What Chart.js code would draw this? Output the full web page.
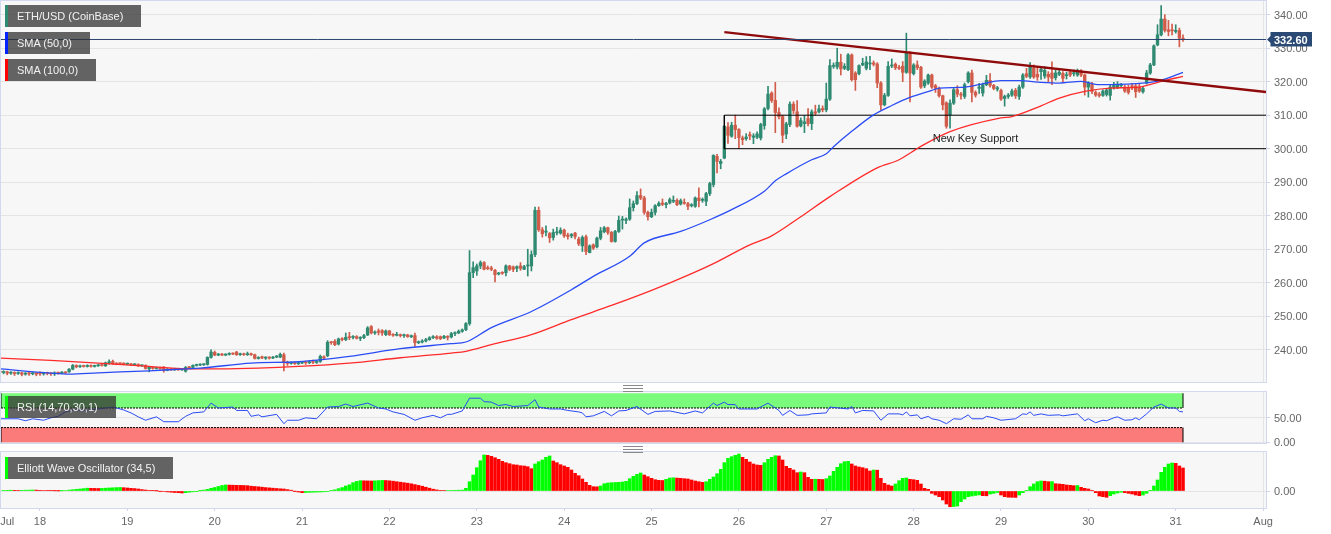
<!DOCTYPE html>
<html><head><meta charset="utf-8"><title>ETH/USD</title>
<script src="https://cdn.jsdelivr.net/npm/chart.js@4"></script>
<style>
html,body{margin:0;padding:0;background:#fff;overflow:hidden;width:1331px;height:534px;font-family:"Liberation Sans",Arial,sans-serif}
canvas{position:absolute;left:0}
.frame{position:absolute;left:0;width:1265px;border:1px solid #d2d9ee;pointer-events:none}
.lg{position:absolute;left:5px;height:22px;line-height:22px;background:rgba(50,50,50,.75);color:#f2f2f2;font-size:11px;padding-left:12px;box-sizing:border-box;white-space:nowrap}
.lg i{position:absolute;left:0;top:0;width:3px;height:22px}
.grip{position:absolute;left:623px;width:20px;height:5px;border-top:1px solid #8a8a8a;border-bottom:1px solid #8a8a8a}
.grip:after{content:"";position:absolute;left:0;right:0;top:2px;height:1px;background:#8a8a8a}
</style></head><body>
<canvas id="main" width="1331" height="381" style="top:1px"></canvas>
<canvas id="rsi" width="1331" height="60" style="top:392px"></canvas>
<canvas id="ewo" width="1331" height="82" style="top:452px"></canvas>
<div class="frame" style="top:0;height:381px"></div>
<div class="frame" style="top:391px;height:51px"></div>
<div class="frame" style="top:451px;height:56px"></div>
<div class="grip" style="top:385px"></div><div class="grip" style="top:446px"></div>
<div class="lg" style="top:5px;width:136px"><i style="background:#2f8a72"></i>ETH/USD (CoinBase)</div>
<div class="lg" style="top:32px;width:85px"><i style="background:#0022ff"></i>SMA (50,0)</div>
<div class="lg" style="top:59px;width:91px"><i style="background:#ff0000"></i>SMA (100,0)</div>
<div class="lg" style="top:396px;width:111px"><i style="background:#00ff00"></i>RSI (14,70,30,1)</div>
<div class="lg" style="top:457px;width:168px"><i style="background:#00ff00"></i>Elliott Wave Oscillator (34,5)</div>
<script>
// Hour index relative to Jul 18 00:00 for the first candle
const firstBar = -11;
const dayTicks = [-9,0,24,48,72,96,120,144,168,192,216,240,264,288,312,336];
const dayLabels = ['Jul','18','19','20','21','22','23','24','25','26','27','28','29','30','31','Aug'];
const priceTicks = [240,250,260,270,280,290,300,310,320,330,340];
const rsiTicks = [0,50];
const ewoTicks = [0];
const lastPrice = 332.6;
const supportLevels = [310,300];
const supportStart = 188;
const trendX = [188,336.8];
const trendY = [334.8,316.9];
const noteLabel = 'New Key Support';
const noteAt = [257,303.0];

const opens = [
233.6,233.2,233.4,233.0,233.2,232.9,233.1,232.7,233.0,232.8,233.0,
233.0,232.8,233.0,232.9,232.8,233.1,233.0,233.2,233.4,234.2,235.3,234.9,235.2,235.0,235.3,235.0,235.2,235.4,235.2,236.1,236.5,235.9,235.9,235.9,
235.7,235.8,235.5,235.6,235.2,235.3,234.3,234.8,234.4,234.6,234.8,233.9,234.2,234.0,234.3,234.0,233.6,234.7,234.7,235.3,235.4,235.5,235.6,237.7,
239.2,238.4,238.7,238.4,238.6,238.9,239.3,238.5,238.7,238.5,238.8,238.5,237.4,237.9,237.5,237.7,237.5,237.8,237.8,238.5,236.2,235.9,236.1,235.8,
236.0,236.2,236.1,236.4,236.2,236.5,237.9,238.2,242.2,242.5,241.7,243.2,243.0,243.8,243.7,243.9,243.4,243.6,244.4,246.9,245.0,245.6,245.7,244.5,
245.6,244.5,244.3,244.5,244.2,244.4,243.9,244.2,242.1,242.3,242.6,243.0,243.6,243.9,243.9,243.5,244.0,243.8,244.8,245.0,245.5,246.0,247.8,263.0,
263.5,265.0,266.0,264.5,264.4,263.7,262.6,263.0,263.0,265.0,264.7,264.3,265.0,264.0,265.0,265.0,268.4,281.6,275.8,275.1,274.7,273.5,274.9,274.8,
275.7,274.2,274.0,274.8,273.0,271.0,273.7,269.0,271.3,270.7,273.3,275.2,276.4,275.0,272.3,275.3,278.7,278.6,279.0,282.4,283.6,286.0,285.3,281.0,
279.7,281.0,283.0,283.8,283.3,283.8,284.3,284.6,283.5,284.0,283.6,283.0,282.8,285.3,284.6,284.3,286.6,289.3,297.7,295.6,297.2,306.5,303.7,307.0,
305.7,303.2,303.0,304.2,303.4,303.4,303.2,306.9,312.0,316.6,314.4,310.8,309.6,304.4,307.2,313.3,311.0,306.8,307.5,309.0,307.5,311.0,311.0,312.0,
311.6,314.8,324.6,324.4,325.8,324.0,323.6,328.0,322.6,322.4,325.0,324.0,325.3,325.6,325.3,319.6,313.1,315.9,324.7,325.2,324.3,324.6,322.8,328.6,
322.4,325.0,324.3,318.8,319.6,322.0,318.8,318.0,315.8,313.7,310.1,313.6,317.6,316.3,315.6,320.0,322.6,316.8,318.0,316.6,319.1,320.4,318.9,317.8,
317.4,315.0,315.6,316.0,317.4,315.6,318.4,322.4,321.4,324.1,322.2,323.0,321.7,322.2,322.6,321.2,322.2,322.5,321.8,322.8,322.4,322.0,323.2,322.0,
318.4,319.2,316.8,316.3,315.9,316.2,315.9,318.2,318.2,318.8,318.4,318.0,318.8,318.7,318.4,317.0,319.6,322.6,325.0,331.0,334.0,338.7,335.5,335.4,
335.0,335.3,333.0];
const highs = [
233.9,233.7,233.6,233.5,233.4,233.4,233.3,233.2,233.3,233.2,233.2,
233.4,233.2,233.3,233.2,233.4,233.3,233.5,233.4,234.4,235.6,235.5,235.4,235.4,235.5,235.5,235.4,235.6,235.6,236.3,237.0,236.9,236.1,236.1,236.1,
236.0,235.9,235.8,235.8,235.5,235.5,235.0,235.0,234.8,234.8,235.0,234.4,234.4,234.5,234.5,234.4,235.0,235.0,235.5,235.7,235.8,235.8,237.9,240.0,
239.6,238.9,238.9,238.8,239.1,239.1,239.5,239.0,239.0,239.3,239.0,238.7,237.9,238.1,237.9,237.9,238.0,238.3,239.0,239.0,236.6,236.4,236.3,236.3,
236.5,236.6,236.7,236.9,236.8,238.4,238.2,242.7,242.4,243.0,243.5,243.6,245.0,245.2,244.2,244.2,243.9,244.6,246.9,247.2,245.6,246.2,246.0,245.9,
245.8,244.8,245.2,244.7,244.7,244.6,244.4,245.0,242.6,243.0,243.4,243.9,244.2,244.2,244.1,244.3,244.2,245.2,245.3,245.9,246.2,248.1,269.6,266.2,
265.6,266.5,266.3,265.0,264.9,264.0,263.1,263.3,265.3,265.2,265.0,265.0,266.0,265.2,270.0,269.5,282.6,282.6,276.5,277.0,275.0,276.0,276.5,276.4,
276.0,274.8,274.7,275.0,273.6,274.0,274.2,271.3,271.6,273.6,276.5,276.8,276.6,275.3,275.6,279.9,279.8,279.4,285.0,284.4,287.2,288.0,285.8,281.4,
282.0,283.3,284.2,285.0,284.0,285.3,285.9,285.0,285.0,285.0,284.0,283.6,285.6,288.3,285.3,287.0,290.0,298.2,298.3,296.8,307.0,307.8,307.9,310.0,
306.0,303.8,304.5,305.0,304.5,305.0,307.6,312.3,318.6,317.0,319.8,312.2,310.0,307.9,314.0,314.0,314.4,309.2,309.9,312.0,311.6,313.0,313.0,312.8,
319.6,326.6,325.6,330.0,328.2,325.4,328.4,328.3,323.0,325.0,327.0,327.5,327.6,326.2,325.7,320.0,316.5,326.0,326.8,325.6,324.9,326.0,334.5,329.0,
325.4,326.2,324.6,320.6,322.3,322.3,319.2,318.4,316.0,314.0,314.6,318.0,318.8,316.8,319.6,323.0,323.5,317.3,319.5,319.6,321.9,322.4,319.2,318.6,
317.8,316.0,316.5,317.8,318.0,319.0,322.4,324.0,325.7,325.0,324.6,324.6,324.5,323.0,325.9,323.5,324.0,323.0,322.8,323.5,323.5,323.8,323.6,322.3,
320.0,319.8,317.3,316.8,317.6,318.0,319.0,319.8,320.0,319.5,319.0,319.0,319.5,319.2,319.4,318.6,323.4,325.5,331.0,337.0,342.7,340.0,338.3,337.2,
337.0,336.0,334.0];
const lows = [
232.9,232.8,232.5,232.6,232.3,232.6,232.2,232.4,232.3,232.5,232.2,
232.3,232.4,232.5,232.3,232.3,232.7,232.8,232.9,233.2,234.0,234.6,234.7,234.8,234.8,234.8,234.8,235.0,235.1,235.0,235.7,235.6,235.5,235.6,235.5,
235.5,235.3,235.4,235.0,235.0,234.2,233.4,234.2,234.2,234.1,233.3,233.7,233.8,233.8,233.8,233.8,233.3,234.4,234.5,235.1,235.2,235.3,235.4,237.5,
238.2,238.2,238.2,238.2,238.4,238.5,238.3,238.3,238.3,238.3,238.3,237.2,237.2,237.3,237.1,237.2,237.3,237.6,237.6,233.7,235.3,235.7,235.6,235.6,
235.8,235.6,235.8,235.8,235.9,236.2,237.2,237.9,241.6,241.2,241.4,242.6,242.7,243.0,243.2,243.2,242.7,243.3,244.2,244.7,244.6,244.4,244.3,244.2,
244.2,244.0,244.1,243.8,243.7,243.7,243.6,241.0,241.8,242.0,242.3,242.8,243.3,243.1,243.0,243.3,242.9,243.5,244.2,244.8,245.2,245.7,247.3,261.5,
262.2,264.2,263.8,263.9,263.6,260.2,262.3,262.5,262.0,263.6,263.3,263.3,263.7,263.9,262.0,263.5,267.8,275.3,273.6,274.0,272.0,272.7,274.3,274.5,
273.5,273.0,273.4,273.1,271.1,269.3,268.4,268.9,269.9,270.4,272.8,274.9,274.4,272.1,272.1,275.0,276.0,277.6,278.6,281.4,283.3,284.8,280.4,278.7,
279.4,280.2,282.8,283.0,282.3,283.5,283.9,283.0,283.2,283.4,281.8,282.6,282.5,282.6,284.0,283.0,286.0,288.6,292.8,294.0,297.0,301.6,303.4,303.0,
300.0,301.2,302.5,302.7,301.5,303.0,302.6,305.8,311.6,313.8,304.8,308.9,301.8,303.0,306.6,310.5,306.4,306.5,304.8,306.8,305.7,310.0,310.7,311.0,
311.0,314.4,324.0,323.8,322.0,323.6,323.3,320.2,317.4,322.0,324.8,323.5,323.6,324.7,318.2,311.6,312.8,315.6,324.2,323.6,323.6,320.0,322.5,314.0,
322.0,323.6,318.0,318.2,319.2,318.0,316.8,315.4,311.6,306.1,306.1,313.2,315.5,314.8,315.0,319.6,314.0,315.4,316.5,315.7,318.8,318.4,317.6,317.2,
314.4,312.7,315.0,315.6,315.0,314.7,318.0,321.2,321.0,321.0,320.4,320.7,321.0,320.0,319.1,320.5,321.8,320.0,320.8,321.5,321.7,321.6,321.5,316.0,
315.4,316.4,315.6,315.4,315.6,315.7,314.5,317.8,317.9,318.2,316.8,316.3,317.6,315.3,316.8,316.6,319.3,322.2,324.8,330.7,333.7,334.8,333.7,334.0,
334.5,330.4,332.0];
const closes = [
233.2,233.4,233.0,233.2,232.9,233.1,232.7,233.0,232.8,233.0,232.7,
232.8,233.0,232.9,232.8,233.1,233.0,233.2,233.1,234.2,235.3,234.9,235.2,235.0,235.3,235.0,235.2,235.4,235.3,236.1,236.3,235.8,235.7,235.8,235.7,
235.8,235.5,235.6,235.2,235.3,234.4,234.8,234.4,234.6,234.3,233.9,234.2,234.0,234.3,234.0,234.2,234.7,234.6,235.3,235.4,235.5,235.6,237.7,239.3,
238.4,238.7,238.4,238.6,238.9,238.7,238.5,238.7,238.5,238.8,238.5,237.4,237.6,237.5,237.7,237.5,237.8,238.0,238.6,236.2,235.9,236.1,235.8,236.0,
236.2,236.1,236.4,236.2,236.5,238.0,237.5,242.2,242.1,241.5,243.2,243.0,243.7,243.6,243.9,243.4,243.6,244.2,246.5,245.0,245.2,245.2,245.0,245.6,
244.5,244.3,244.5,244.2,244.4,243.9,244.1,242.1,242.3,242.6,243.0,243.6,243.9,243.4,243.3,244.0,243.7,244.8,245.0,245.5,245.9,247.8,263.0,264.5,
265.0,266.0,264.0,264.2,264.0,262.4,262.8,262.8,265.0,264.0,264.0,264.8,264.3,264.8,265.3,268.4,281.6,275.8,274.6,275.3,273.4,275.0,275.2,275.7,
274.0,273.8,274.4,273.8,271.6,273.5,269.3,271.0,270.3,273.3,275.5,276.4,275.0,272.3,275.3,278.6,278.9,279.0,282.4,283.6,286.0,285.3,281.0,279.7,
281.0,283.0,283.7,283.4,283.7,284.8,284.5,283.3,284.5,283.7,282.8,283.3,285.3,284.5,284.9,286.6,289.6,298.0,296.2,296.2,306.7,304.0,307.0,305.7,
303.3,302.7,303.5,303.8,303.8,304.4,307.2,311.9,316.3,314.4,310.8,309.6,304.0,307.4,313.3,311.4,306.7,308.4,308.0,307.5,311.0,310.6,311.9,311.6,
314.8,324.8,324.9,325.8,323.8,324.6,328.0,320.6,320.6,324.8,325.5,325.9,325.6,325.2,319.6,313.1,315.9,324.6,325.0,324.2,324.0,322.8,328.6,322.6,
325.0,324.2,318.4,320.2,322.0,318.4,318.0,315.8,313.1,306.7,313.6,317.6,316.3,316.0,319.1,322.6,316.8,316.0,318.4,319.1,320.4,318.9,318.0,318.2,
314.8,315.6,316.0,317.2,315.8,318.4,322.0,321.6,324.6,321.4,321.4,323.7,323.4,321.4,321.0,322.6,322.8,321.0,322.0,322.0,322.7,323.4,322.0,318.4,
319.6,317.1,316.0,315.9,317.2,317.5,318.4,318.9,319.2,319.0,317.2,316.8,318.2,317.0,317.2,318.0,322.6,325.0,330.7,334.0,338.7,335.3,335.0,335.2,
335.3,333.0,332.6];

const sma50Hours = [-11,3,8,16,30,40,44,58,71,85,99,113,117,124,135,146,152,162,166,176,184,190,199,202,205,212,216,218,223,229,234,239,245,247,253,258,264,269,275,280,286,291,298,305,309,314];
const sma50Values = [234.3,233.0,232.7,233.1,233.7,234.3,234.5,236.0,236.4,238.0,240.3,241.8,242.3,246.6,251.4,257.9,261.9,267.9,271.9,275.3,278.8,281.8,287.3,290.4,292.5,296.7,298.5,300.6,305.2,310.1,312.9,315.3,317.4,318.1,318.3,319.1,320.3,320.3,319.8,319.6,320.1,319.1,319.3,319.8,320.8,322.8];
const sma100Hours = [-11,3,16,30,40,49,60,71,85,99,113,117,124,135,146,157,168,179,185,195,201,209,217,230,236,242,250,264,267,275,280,287,294,302,308,314];
const sma100Values = [237.5,236.8,236.0,235.0,234.3,234.3,234.5,235.0,236.0,237.6,239.0,239.5,241.5,244.5,249.0,253.2,257.7,262.7,265.7,271.3,274.0,279.7,285.7,294.3,296.7,300.7,305.1,309.2,309.6,312.8,315.1,317.1,318.1,318.4,320.1,321.6];

const rsiHours = [-11,-6,-4,-2,1,3,5,7,9,13,16,20,21,23,25,27,29,32,34,38,40,42,45,47,49,53,54,57,58,60,61,65,67,68,71,73,76,79,82,84,86,90,93,95,97,100,103,105,108,110,112,113,116,118,121,122,124,126,128,130,134,136,137,140,143,145,148,149,150,152,155,157,159,161,164,167,169,173,177,180,182,185,186,188,189,191,192,197,200,203,204,206,208,211,212,216,217,222,223,224,226,229,231,233,236,237,238,239,241,242,244,245,247,249,251,253,255,256,259,260,262,264,268,270,271,272,273,275,277,280,281,285,287,288,290,292,293,295,296,298,300,301,302,304,306,308,310,312,313,314];
const rsiValues = [48,48,44,48,45,50,53,62,66,65,68,72,70,66,60,52,45,52,42,42,53,60,62,80,70,72,65,65,53,56,52,57,38,45,45,50,48,72,73,78,73,80,70,68,62,57,45,50,55,50,57,57,64,90,90,83,82,75,77,73,75,87,72,68,68,65,62,60,52,54,63,54,64,65,73,57,63,64,58,64,60,80,75,82,77,77,68,68,80,65,55,65,55,56,58,60,72,68,73,60,65,64,45,58,58,56,62,54,56,48,53,48,45,38,48,47,56,48,48,53,50,45,48,58,57,62,55,58,55,56,54,58,44,48,40,45,44,50,52,45,46,50,46,58,72,78,70,70,63,62];
const rsiOverbought = 70, rsiOversold = 30, rsiEnd = 314;

const ewoValues = [
.5,.6,.7,.8,.7,.6,.7,.8,.9,1,.9,.7,.5,.4,.3,.2,.1,.2,
.5,.9,1.3,1.7,2,2.4,2.8,2.7,2.6,2.5,
2.6,2.8,3,3.2,3.4,3.5,3.3,3,2.7,2.4,2,1.4,1,.6,.3,.1,
-.2,-.5,-.9,-1.2,-1.5,-1.7,-2,
-1.7,-1.2,-.8,-.3,.2,.9,1.7,2.7,3.5,4.5,5.5,6,
5.9,5.8,5.7,5.6,5.5,5.3,4.8,4.5,4.2,3.8,3.4,3.1,2.8,2.5,2.2,2,1.4,.8,-.1,-1,-1.7,
-1.5,-1.3,-1.2,-1.1,-1,-.8,-.4,
.3,1.2,2.3,3.4,5,6.2,8.3,9.6,10.3,
10.2,10.1,10,
10.2,10.4,10.6,
10.5,10.2,9.8,9.3,8.8,8.3,7.8,7.2,6.4,5.6,4.8,3.8,2.8,1.8,1.1,.6,.4,
.5,.6,.7,.8,.9,2.7,9.3,16,23.3,30.3,36,
35.7,34.7,33.3,31.7,29.7,28.3,27.3,26.3,26,25.3,25,24.3,22.3,
27,29.3,31,33.7,35,
30,28.3,26.3,25,23.7,21,17.7,15.3,12,8.7,5.7,4.3,4.2,
5,7.3,8,8.3,8.5,8.7,9,9.7,12.3,14.7,16.7,18,
16,14.3,12.7,11.3,10.7,10.5,
11.7,13,13.2,
12.9,12.7,12.3,12,11,10,9.3,8.7,
9.3,11.7,14,17.3,21.7,28.3,32.7,34.3,35.7,37,
33.7,31.7,29,27,26,25.7,
28.3,31.7,33.7,35.3,
35,31,24.7,22.7,21,18.3,
19,
18.3,13.7,11.7,
11.8,
11.7,11.5,
12.3,15,19.7,23.7,27.3,29.3,29.7,
27,25,24,23.3,22.3,20,
21,
20.8,12.7,7.7,6,5,
7,10.3,12.7,13,
11.7,11.3,10.7,7,2.7,1.7,
-2.3,-4,-5.7,-9,-13,-15.7,
-15.5,-15,-10.7,-8,-5.7,-5,-4.4,-3.9,
-4.7,-4.8,
-3,-2.3,-1.5,
-4,-5.7,-6.2,-6.3,-6.4,
-4,-1.7,.7,4.3,7,9.3,10,
9.8,9.3,
9.4,
7.3,7,6.7,6,5.7,5.3,
5.5,
3.7,2.7,2,.3,-1.7,-5,-5.7,-6.3,
-4.7,-3,-2,-1.2,
-1.7,-2.3,-3,-4,-4.7,
-4,-2.3,.3,5,11,18.7,23.7,27,28,
27.7,25,23];

const XMIN = -10.71, XMAX = 336.8;
const UP = '#2f8a72', DOWN = '#d25c4a', AXIS = '#666', GRID = '#e4e4e4', TICK = '#cfd6ea';
const FONT = {family:'"Liberation Sans", Arial, sans-serif', size:11};
Chart.defaults.animation = false;
Chart.defaults.font = FONT;

const barX = i => firstBar + i;
const zip = (xs, ys) => xs.map((x, k) => ({x, y: ys[k]}));

const paneBg = {id:'paneBg', beforeDraw(c){
  const a=c.chartArea, g=c.ctx; g.save(); g.fillStyle='#f7f7f7'; g.fillRect(a.left,a.top,a.right-a.left,a.bottom-a.top); g.restore();
  // value labels sit one pixel lower than the library's default centring
  c.scales.y.getLabelItems().forEach(it=>{it.options.translation[1]+=1;});
}};
const priceOverlay = {id:'priceOverlay', afterDraw(c){
  const g=c.ctx, yS=c.scales.y, xS=c.scales.x; g.save();
  const y=yS.getPixelForValue(lastPrice);
  g.fillStyle='#2a4a75'; g.beginPath();
  g.moveTo(1267,y); g.lineTo(1270.5,y-3.5); g.lineTo(1270.5,y-7.5); g.lineTo(1312,y-7.5); g.lineTo(1312,y+7); g.lineTo(1270.5,y+7); g.lineTo(1270.5,y+3.5); g.closePath(); g.fill();
  g.fillStyle='#fff'; g.font='bold 11px "Liberation Sans", Arial, sans-serif'; g.textBaseline='middle'; g.textAlign='left';
  g.fillText(lastPrice.toFixed(2),1274,y+1);
  g.fillStyle='#222'; g.font='11px "Liberation Sans", Arial, sans-serif'; g.textAlign='center';
  g.fillText(noteLabel,xS.getPixelForValue(noteAt[0]),yS.getPixelForValue(noteAt[1]));
  g.restore();
}};

function xScale(axisHeight,showLabels){
  return {type:'linear',min:XMIN,max:XMAX,offset:false,
    border:{display:false},
    grid:{offset:false,drawTicks:showLabels,tickLength:3,
      color:ctx=>ctx.tick&&ctx.tick.value===336?GRID:'rgba(0,0,0,0)',
      tickColor:ctx=>ctx.tick&&ctx.tick.value===-9?'rgba(0,0,0,0)':TICK},
    ticks:{display:showLabels,autoSkip:false,maxRotation:0,minRotation:0,padding:4,color:AXIS,font:FONT,
      callback:(v,i)=>dayLabels[i]},
    afterBuildTicks:s=>{s.ticks=dayTicks.map(v=>({value:v}));},
    afterFit:s=>{s.height=axisHeight;s.paddingLeft=0;s.paddingRight=0;}
  };
}
function yScale(min,max,list){
  return {type:'linear',position:'right',min,max,
    border:{display:false},
    grid:{color:GRID,tickColor:TICK,tickLength:4},
    ticks:{color:AXIS,font:FONT,padding:4,autoSkip:false,callback:v=>Number(v).toFixed(2)},
    afterBuildTicks:s=>{s.ticks=list.map(v=>({value:v}));},
    afterFit:s=>{s.width=65;s.paddingTop=0;s.paddingBottom=0;}
  };
}
const baseOpts = (scales)=>({responsive:false,devicePixelRatio:1,maintainAspectRatio:false,
  layout:{padding:{left:1,right:0,top:0,bottom:0}},
  plugins:{legend:{display:false},tooltip:{enabled:false},title:{display:false}},
  events:[],scales});

const candleColors = closes.map((c,i)=>c>=opens[i]?UP:DOWN);
const lineDs = (data,color,width,order,extra)=>Object.assign({type:'line',data,borderColor:color,borderWidth:width,pointRadius:0,fill:false,order,tension:0},extra||{});

new Chart(document.getElementById('main'),{
  data:{datasets:[
    {type:'bar',data:highs.map((h,i)=>({x:barX(i),y:[lows[i],h]})),backgroundColor:candleColors,barThickness:1,grouped:false,order:10},
    {type:'bar',data:opens.map((o,i)=>({x:barX(i),y:[o,closes[i]]})),backgroundColor:candleColors,barThickness:2.7,minBarLength:1,grouped:false,order:9},
    lineDs(zip([supportStart,XMAX],[supportLevels[0],supportLevels[0]]),'#000',1,6),
    lineDs(zip([supportStart,supportStart],supportLevels),'#000',1,6),
    lineDs(zip([supportStart,XMAX],[supportLevels[1],supportLevels[1]]),'#000',1,6),
    lineDs(zip(sma100Hours,sma100Values),'#ff2a2a',1.3,5,{cubicInterpolationMode:'monotone'}),
    lineDs(zip(sma50Hours,sma50Values),'#2a4cf5',1.3,4,{cubicInterpolationMode:'monotone'}),
    lineDs(zip(trendX,trendY),'#8f0b0b',2.5,3),
    lineDs(zip([XMIN,XMAX],[lastPrice,lastPrice]),'#2b4470',1,2)
  ]},
  options:baseOpts({x:xScale(0,false),y:yScale(230.36,344.09,priceTicks)}),
  plugins:[paneBg,priceOverlay]
});

new Chart(document.getElementById('rsi'),{
  data:{datasets:[
    lineDs(zip([XMIN,rsiEnd],[rsiOverbought,rsiOverbought]),'#000',1,5,{borderDash:[2,1],fill:{value:100},backgroundColor:'rgba(0,255,0,.5)'}),
    lineDs(zip([XMIN,rsiEnd],[rsiOversold,rsiOversold]),'#000',1,5,{borderDash:[2,1],fill:{value:0},backgroundColor:'rgba(255,0,0,.5)'}),
    lineDs(zip([rsiEnd,rsiEnd],[rsiOverbought,100]),'#000',1,4),
    lineDs(zip([rsiEnd,rsiEnd],[0,rsiOversold]),'#000',1,4),
    lineDs(zip([XMIN,XMIN],[rsiOverbought,100]),'#000',1,4),
    lineDs(zip([XMIN,XMIN],[0,rsiOversold]),'#000',1,4),
    lineDs(zip(rsiHours,rsiValues),'#2a4cf5',1,2)
  ]},
  options:baseOpts({x:xScale(9,false),y:yScale(-1.43,102.65,rsiTicks)}),
  plugins:[paneBg]
});

const ewoColors=[];
ewoValues.forEach((v,i)=>{
  if(i===0){ewoColors.push('#00ff00');return;}
  const p=ewoValues[i-1];
  ewoColors.push(v>p?'#00ff00':v<p?'#ff0000':ewoColors[i-1]);
});
new Chart(document.getElementById('ewo'),{
  data:{datasets:[{type:'bar',data:ewoValues.map((v,i)=>({x:barX(i),y:v})),backgroundColor:ewoColors,barThickness:2.9,grouped:false}]},
  options:baseOpts({x:xScale(26,true),y:yScale(-17,39,ewoTicks)}),
  plugins:[paneBg]
});
</script>
</body></html>
